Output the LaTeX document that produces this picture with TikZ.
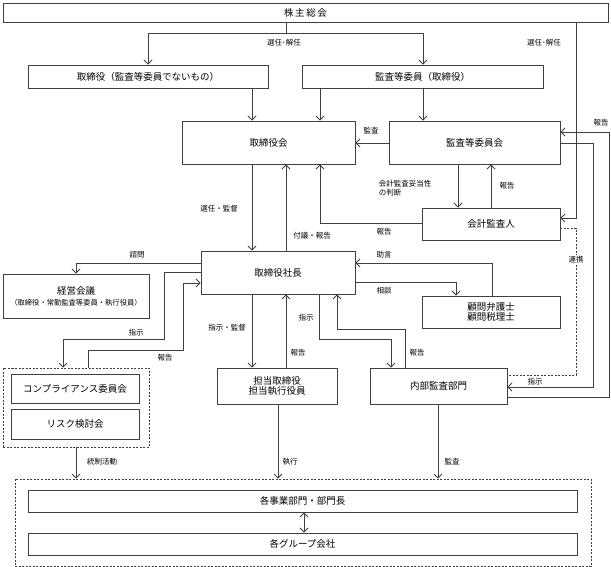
\documentclass[tikz,border=0pt]{standalone}
\usepackage{fontspec}
\setmainfont{Noto Sans CJK JP}
\usetikzlibrary{arrows.meta}
\begin{document}
\begin{tikzpicture}[x=1pt,y=-1pt,
  line width=0.8pt,
  color=black!75,
  >={Straight Barb[length=4pt,width=8pt]},
  box/.style={draw=black!75,line width=0.9pt,rectangle,inner sep=0pt,align=center,text=black,font=\fontsize{9.5}{12}\selectfont},
  dbox/.style={draw=black!75,line width=0.8pt,dashed,dash pattern=on 2pt off 1.5pt,rectangle,inner sep=0pt},
  lbl/.style={inner sep=0.5pt,font=\fontsize{7.5}{9}\selectfont,text=black}]
\useasboundingbox (0,0) rectangle (611,567);
% coordinates
\foreach \n/\v in {148/148,423/423,286/286,252/252,320/320,576/576,458/458,491/491,63/63,88/88,76/76,319/319,391/391,405/405,337/337,492/492,456/456,278/278,438/438,304/304}{\coordinate (c\n) at (\v,0);}
\foreach \n in {33,132,143,218,223,228,263,272,282,283,375,387,397}{\coordinate (y\n) at (0,\n);}
% boxes
\node[box,minimum width=605pt,minimum height=19pt] (gm) at (305.5,12.5) {株\,主\,総\,会};
\node[box,minimum width=240pt,minimum height=23pt] (dirA) at (148,76.5) {取締役（監査等委員でないもの）};
\node[box,minimum width=241pt,minimum height=23pt] (dirB) at (422.5,76.5) {監査等委員（取締役）};
\node[box,minimum width=173pt,minimum height=43pt] (board) at (268.5,142.5) {取締役会};
\node[box,minimum width=171pt,minimum height=43pt] (acc) at (474.5,142.5) {監査等委員会};
\node[box,minimum width=138pt,minimum height=32pt] (aud) at (491,224) {会計監査人};
\node[box,minimum width=154pt,minimum height=43pt] (pres) at (278,272.5) {取締役社長};
\node[box,minimum width=146pt,minimum height=44pt] (mgmt) at (76,296) {経営会議\\[-1pt]{\fontsize{7.3}{9}\selectfont（取締役・常勤監査等委員・執行役員）}};
\node[box,minimum width=138pt,minimum height=32pt] (adv) at (491,312) {顧問弁護士\\[-2pt]顧問税理士};
\node[dbox,minimum width=146pt,minimum height=79pt] (cgrp) at (76,407.5) {};
\node[box,minimum width=128pt,minimum height=29pt] (comp) at (75,388.5) {コンプライアンス委員会};
\node[box,minimum width=128pt,minimum height=30pt] (risk) at (75,424) {リスク検討会};
\node[box,minimum width=120pt,minimum height=36pt] (tanto) at (277,386) {担当取締役\\[-2pt]担当執行役員};
\node[box,minimum width=137pt,minimum height=36pt] (ia) at (438.5,386) {内部監査部門};
\node[dbox,minimum width=576pt,minimum height=87pt] (bot) at (303,522.5) {};
\node[box,minimum width=549pt,minimum height=22pt] (biz) at (302.5,501) {各事業部門・部門長};
\node[box,minimum width=549pt,minimum height=22pt] (grp) at (302.5,544) {各グループ会社};
% connectors
\draw (gm.south -| c286) -- (c286 |- y33);
\draw[<->] (dirA.north -| c148) -- (c148 |- y33) -- (c423 |- y33) -- (dirB.north -| c423);
\draw[->] (dirA.south -| c252) -- (board.north -| c252);
\draw[->] (dirB.south -| c320) -- (board.north -| c320);
\draw[->] (dirB.south -| c423) -- (acc.north -| c423);
\draw[->] (gm.south -| c576) |- (aud.east |- y218);
\draw[->] (acc.west |- y143) -- (board.east |- y143);
\draw[->] (ia.east |- y397) -- (609,397) -- (609,132) -- (acc.east |- y132);
\draw[->] (acc.east |- y143) -- (593,143) -- (593,387) -- (ia.east |- y387);
\draw[dashed,dash pattern=on 2pt off 1.5pt] (aud.east |- y228) -- (c576 |- y228) -- (c576 |- y375) -- (ia.east |- y375);
\draw[->] (acc.south -| c458) -- (aud.north -| c458);
\draw[->] (aud.north -| c491) -- (acc.south -| c491);
\draw[->] (aud.west |- y223) -| (board.south -| c320);
\draw[->] (board.south -| c252) -- (pres.north -| c252);
\draw[->] (pres.north -| c286) -- (board.south -| c286);
\draw[->] (pres.west |- y263) -| (mgmt.north);
\draw[->] (pres.west |- y272) -- (164,272) -- (164,339) -| (cgrp.north -| c63);
\draw[->] (cgrp.north -| c88) -- (88,350) -- (183,350) -- (183,283) -- (pres.west |- y283);
\draw[->] (cgrp.south -| c76) -- (bot.north -| c76);
\draw[->] (pres.south -| c252) -- (tanto.north -| c252);
\draw[->] (tanto.north -| c286) -- (pres.south -| c286);
\draw[->] (pres.south -| c319) -- (319,339) -- (391,339) -- (ia.north -| c391);
\draw[->] (ia.north -| c405) -- (405,329) -- (337,329) -- (pres.south -| c337);
\draw[->] (adv.north -| c492) |- (pres.east |- y263);
\draw[->] (pres.east |- y282) -| (adv.north -| c456);
\draw[->] (tanto.south -| c278) -- (bot.north -| c278);
\draw[->] (ia.south -| c438) -- (bot.north -| c438);
\draw[<->] (biz.south -| c304) -- (grp.north -| c304);
% labels
\node[lbl] (l1) at (284,43) {選任･解任};
\node[lbl] (l2) at (544,43) {選任･解任};
\node[lbl] (l3) at (371,131) {監査};
\node[lbl] (l4) at (601,123) {報告};
\node[lbl,anchor=west,align=left,font=\fontsize{7.5}{9.5}\selectfont] (l5) at (378,188) {会計監査妥当性\\の判断};
\node[lbl] (l6) at (507,186) {報告};
\node[lbl] (l7) at (219,209) {選任・監督};
\node[lbl] (l8) at (312,236) {付議・報告};
\node[lbl] (l9) at (384,232) {報告};
\node[lbl] (l10) at (137,255) {諮問};
\node[lbl] (l11) at (384,255) {助言};
\node[lbl] (l12) at (384,291) {相談};
\node[lbl] (l13) at (136,333) {指示};
\node[lbl] (l14) at (165,358) {報告};
\node[lbl] (l15) at (227,328) {指示・監督};
\node[lbl] (l16) at (298,353) {報告};
\node[lbl] (l17) at (306,318) {指示};
\node[lbl] (l18) at (417,353) {報告};
\node[lbl,fill=white,inner ysep=2pt] (l19) at (576,260) {連携};
\node[lbl] (l20) at (535,382) {指示};
\node[lbl] (l21) at (102,462) {統制活動};
\node[lbl] (l22) at (290,462) {執行};
\node[lbl] (l23) at (452,462) {監査};
\end{tikzpicture}
\end{document}
